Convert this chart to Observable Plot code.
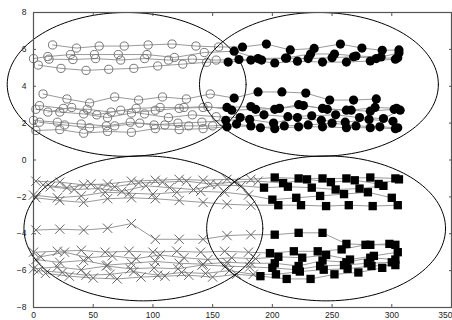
<!DOCTYPE html>
<html>
<head>
<meta charset="utf-8">
<script src="https://cdn.jsdelivr.net/npm/d3@7"></script>
<script src="https://cdn.jsdelivr.net/npm/@observablehq/plot@0.6"></script>
<style>
  html, body { margin: 0; padding: 0; background: #fff; }
  #chart { width: 452px; height: 320px; overflow: hidden; }
</style>
</head>
<body>
<div id="chart"></div>
<script>
// ---- tick labels ----
const xTicks = [0, 50, 100, 150, 200, 250, 300, 350];
const yTicks = [-8, -6, -4, -2, 0, 2, 4, 6, 8];

// ---- switch points (open -> filled markers) ----
const topSwitchX = 160;
const bottomSwitchX = 190;

// ---- upper group, high band ----
const U1x = [16, 36, 55, 76, 96, 116, 136, 155, 175, 195, 215, 235, 257, 275, 292, 306];
const U1y = [6.24, 6.07, 6.18, 6.18, 6.24, 6.29, 6.18, 6.13, 6.13, 6.29, 5.97, 6.05, 6.29, 6.07, 5.95, 5.97];
const U2x = [0, 12, 31, 51, 71, 95, 118, 143, 168, 188, 211, 232, 252, 270, 291, 306];
const U2y = [5.5, 5.61, 5.72, 5.72, 5.72, 5.72, 5.56, 5.83, 5.9, 5.5, 5.53, 5.75, 5.75, 5.64, 5.59, 5.8];
const U3x = [4, 23, 44, 63, 84, 104, 125, 145, 163, 182, 202, 221, 242, 262, 282, 303];
const U3y = [5.15, 4.97, 4.86, 4.92, 4.97, 5.1, 5.2, 5.3, 5.31, 5.42, 5.26, 5.36, 5.31, 5.31, 5.37, 5.47];
const U4x = [13, 33, 52, 73, 93, 113, 133, 153, 172, 191, 212, 230, 250, 268, 287, 305];
const U4y = [5.47, 5.45, 5.5, 5.42, 5.5, 5.42, 5.47, 5.42, 5.45, 5.42, 5.53, 5.5, 5.55, 5.6, 5.5, 5.55];

// ---- upper group, low band ----
const L1x = [8, 28, 47, 68, 88, 108, 128, 148, 168, 188, 208, 228, 248, 268, 287];
const L1y = [3.58, 3.31, 3.09, 3.42, 3.25, 3.42, 3.31, 3.58, 3.36, 3.69, 3.69, 3.63, 3.25, 3.25, 3.31];
const L2x = [5, 25, 45, 65, 86, 106, 126, 146, 166, 186, 206, 226, 246, 266, 286, 304];
const L2y = [2.95, 2.8, 2.75, 2.6, 2.8, 2.85, 2.85, 2.9, 2.7, 2.75, 2.8, 2.95, 2.75, 2.7, 2.85, 2.8];
const L3x = [2, 22, 42, 62, 82, 102, 122, 142, 162, 182, 202, 222, 242, 262, 282, 302];
const L3y = [2.75, 2.6, 2.5, 2.3, 2.55, 2.7, 2.8, 2.85, 2.85, 2.9, 2.75, 3.0, 2.8, 2.7, 2.65, 2.75];
const L4x = [12, 32, 53, 73, 93, 113, 133, 153, 173, 193, 213, 233, 253, 273, 293, 307];
const L4y = [2.6, 2.85, 2.45, 2.7, 2.5, 2.3, 2.45, 2.35, 2.3, 2.45, 2.35, 2.4, 2.45, 2.3, 2.25, 2.7];
const L5x = [0, 20, 40, 61, 81, 101, 121, 141, 161, 181, 201, 221, 241, 261, 281, 301];
const L5y = [2.15, 2.05, 1.95, 1.85, 2.05, 1.9, 2.0, 2.05, 2.15, 2.2, 2.0, 2.3, 2.15, 2.05, 2.2, 2.1];
const L6x = [5, 26, 47, 68, 89, 110, 130, 150, 170, 190, 210, 230, 250, 270, 290, 305];
const L6y = [2.05, 1.9, 1.75, 1.85, 2.0, 1.9, 1.85, 1.85, 1.95, 1.75, 1.85, 1.9, 2.0, 1.85, 1.8, 1.75];
const L7x = [2, 22, 42, 62, 82, 102, 122, 142, 162, 182, 202, 222, 242, 262, 282, 303];
const L7y = [1.6, 1.65, 1.45, 1.55, 1.5, 1.7, 1.65, 1.7, 1.8, 1.85, 1.7, 1.8, 1.8, 1.75, 1.75, 1.7];

// ---- lower group, high band ----
const B1x = [2, 22, 42, 62, 82, 102, 122, 142, 162, 182, 202, 222, 242, 262, 282, 303];
const B1y = [-1.15, -1.2, -1.35, -1.3, -1.15, -1.1, -1.05, -1.1, -1.05, -1.05, -0.95, -1.0, -1.0, -1.0, -0.95, -1.0];
const B2x = [8, 28, 48, 68, 88, 108, 128, 148, 168, 188, 209, 229, 249, 269, 289, 306];
const B2y = [-1.35, -1.5, -1.3, -1.45, -1.25, -1.2, -1.15, -1.3, -1.2, -1.15, -1.25, -1.05, -1.2, -1.1, -1.3, -1.05];
const B3x = [14, 34, 54, 74, 94, 114, 134, 154, 174, 193, 213, 233, 253, 273, 293];
const B3y = [-1.45, -1.6, -1.55, -1.7, -1.4, -1.5, -1.6, -1.35, -1.4, -1.5, -1.45, -1.5, -1.6, -1.55, -1.4];
const B4x = [0, 20, 40, 60, 80, 100, 120, 140, 160, 180, 200, 220, 240, 260, 280, 300];
const B4y = [-1.9, -2.05, -1.95, -1.75, -1.8, -1.85, -1.75, -1.7, -1.75, -1.9, -2.15, -2.05, -1.95, -1.85, -1.75, -2.05];
const B5x = [2, 22, 42, 62, 82, 102, 122, 142, 162, 182, 205, 224, 245, 264, 284, 305];
const B5y = [-2.05, -2.2, -2.3, -2.1, -2.05, -2.1, -2.2, -2.3, -2.4, -2.45, -2.45, -2.45, -2.5, -2.45, -2.5, -2.45];

// ---- lower group, middle line ----
const B6x = [2, 22, 42, 62, 82, 102, 122, 142, 162, 182, 202, 222, 242, 262, 282, 303];
const B6y = [-3.8, -3.75, -3.8, -3.7, -3.45, -4.3, -4.3, -4.3, -4.1, -4.05, -4.05, -3.95, -3.95, -4.55, -4.6, -4.6];

// ---- lower group, low band ----
const B7x = [0, 20, 40, 60, 80, 100, 120, 140, 160, 180, 198, 218, 238, 258, 278, 298];
const B7y = [-5.0, -4.95, -4.9, -5.0, -4.95, -5.0, -4.95, -5.0, -4.95, -5.0, -5.05, -4.95, -4.95, -4.85, -4.6, -4.55];
const B8x = [6, 26, 46, 66, 86, 106, 126, 146, 166, 186, 205, 225, 245, 265, 285, 305];
const B8y = [-5.25, -5.0, -5.3, -5.2, -5.35, -5.15, -5.3, -5.4, -5.3, -5.35, -5.25, -5.3, -5.15, -5.4, -5.2, -5.0];
const B9x = [2, 22, 42, 62, 82, 102, 122, 142, 162, 182, 202, 222, 242, 262, 282, 303];
const B9y = [-5.4, -5.55, -5.45, -5.7, -5.6, -5.5, -5.6, -5.65, -5.55, -5.6, -5.6, -5.75, -5.45, -5.55, -5.3, -5.4];
const B10x = [0, 20, 40, 61, 81, 101, 121, 141, 161, 181, 200, 220, 240, 260, 280, 300];
const B10y = [-5.9, -5.8, -5.95, -5.75, -5.9, -5.85, -5.9, -5.7, -5.75, -5.8, -5.85, -5.95, -5.75, -5.7, -5.6, -5.55];
const B11x = [4, 24, 44, 64, 84, 104, 124, 144, 164, 184, 203, 223, 243, 263, 283, 303];
const B11y = [-6.0, -6.1, -6.25, -6.2, -6.05, -6.25, -6.1, -6.15, -6.0, -6.2, -6.2, -6.05, -5.95, -5.9, -5.75, -5.7];
const B12x = [10, 30, 50, 70, 90, 110, 130, 150, 170, 190, 212, 232, 252, 272, 292];
const B12y = [-6.15, -6.3, -6.4, -6.45, -6.35, -6.3, -6.25, -6.35, -6.2, -6.3, -6.45, -6.45, -6.2, -6.1, -5.85];

// ---- cluster ellipses (data units) ----
const ellipseCx = [78, 239, 92, 245];
const ellipseCy = [4.1, 4.1, -3.71, -3.71];
const ellipseRx = [100, 100, 100, 100];
const ellipseRy = [3.9, 3.9, 3.93, 3.93];

// ---- build table ----
const seriesList = [
  ["U1", U1x, U1y, "top"], ["U2", U2x, U2y, "top"], ["U3", U3x, U3y, "top"], ["U4", U4x, U4y, "top"],
  ["L1", L1x, L1y, "top"], ["L2", L2x, L2y, "top"], ["L3", L3x, L3y, "top"], ["L4", L4x, L4y, "top"],
  ["L5", L5x, L5y, "top"], ["L6", L6x, L6y, "top"], ["L7", L7x, L7y, "top"],
  ["B1", B1x, B1y, "bottom"], ["B2", B2x, B2y, "bottom"], ["B3", B3x, B3y, "bottom"], ["B4", B4x, B4y, "bottom"],
  ["B5", B5x, B5y, "bottom"], ["B6", B6x, B6y, "bottom"], ["B7", B7x, B7y, "bottom"], ["B8", B8x, B8y, "bottom"],
  ["B9", B9x, B9y, "bottom"], ["B10", B10x, B10y, "bottom"], ["B11", B11x, B11y, "bottom"], ["B12", B12x, B12y, "bottom"]
];
const rows = [];
for (const [name, xs, ys, group] of seriesList) {
  const sw = group === "top" ? topSwitchX : bottomSwitchX;
  xs.forEach((x, i) => rows.push({series: name, group, x, y: ys[i], late: x >= sw}));
}

const ellipsePts = [];
ellipseCx.forEach((cx, k) => {
  const n = 160;
  for (let i = 0; i <= n; i++) {
    const t = (i / n) * 2 * Math.PI;
    ellipsePts.push({id: k, x: cx + ellipseRx[k] * Math.cos(t), y: ellipseCy[k] + ellipseRy[k] * Math.sin(t)});
  }
});

const lastX = xTicks[xTicks.length - 1];
const blank = () => "";

const chart = Plot.plot({
  width: 452,
  height: 320,
  marginLeft: 33,
  marginRight: 1,
  marginTop: 12,
  marginBottom: 13,
  style: {fontFamily: "'Liberation Sans', Arial, sans-serif", fontSize: "8.5px", color: "#222", background: "#fff"},
  x: {domain: [0, 350], label: null},
  y: {domain: [-8, 8], label: null},
  marks: [
    Plot.line(rows, {x: "x", y: "y", z: "series", stroke: "#9a9a9a", strokeWidth: 1}),
    Plot.dot(rows, {filter: d => d.group === "top" && !d.late, x: "x", y: "y", r: 4.1, stroke: "#777", strokeWidth: 1, fill: "none"}),
    Plot.dot(rows, {filter: d => d.group === "bottom" && !d.late, x: "x", y: "y", r: 4.3, symbol: "times", stroke: "#666", strokeWidth: 1}),
    Plot.dot(rows, {filter: d => d.group === "top" && d.late, x: "x", y: "y", r: 4.6, fill: "#000", stroke: "none"}),
    Plot.dot(rows, {filter: d => d.group === "bottom" && d.late, x: "x", y: "y", r: 4.7, symbol: "square", fill: "#000", stroke: "none"}),
    Plot.line(ellipsePts, {x: "x", y: "y", z: "id", stroke: "#000", strokeWidth: 1}),
    Plot.frame({stroke: "#555", strokeWidth: 1.2}),
    Plot.axisY(yTicks, {anchor: "left", tickSize: -3, tickPadding: 10, stroke: "#555"}),
    Plot.axisY(yTicks, {anchor: "right", tickSize: -3, tickFormat: blank, stroke: "#555"}),
    Plot.axisX(xTicks.filter(t => t !== lastX), {anchor: "bottom", tickSize: -3, tickPadding: 7, stroke: "#555"}),
    Plot.axisX([lastX], {anchor: "bottom", tickSize: -3, tickPadding: 7, stroke: "#555", textAnchor: "end", dx: 1}),
    Plot.axisX(xTicks, {anchor: "top", tickSize: -3, tickFormat: blank, stroke: "#555"})
  ]
});
document.getElementById("chart").appendChild(chart);
</script>
</body>
</html>
